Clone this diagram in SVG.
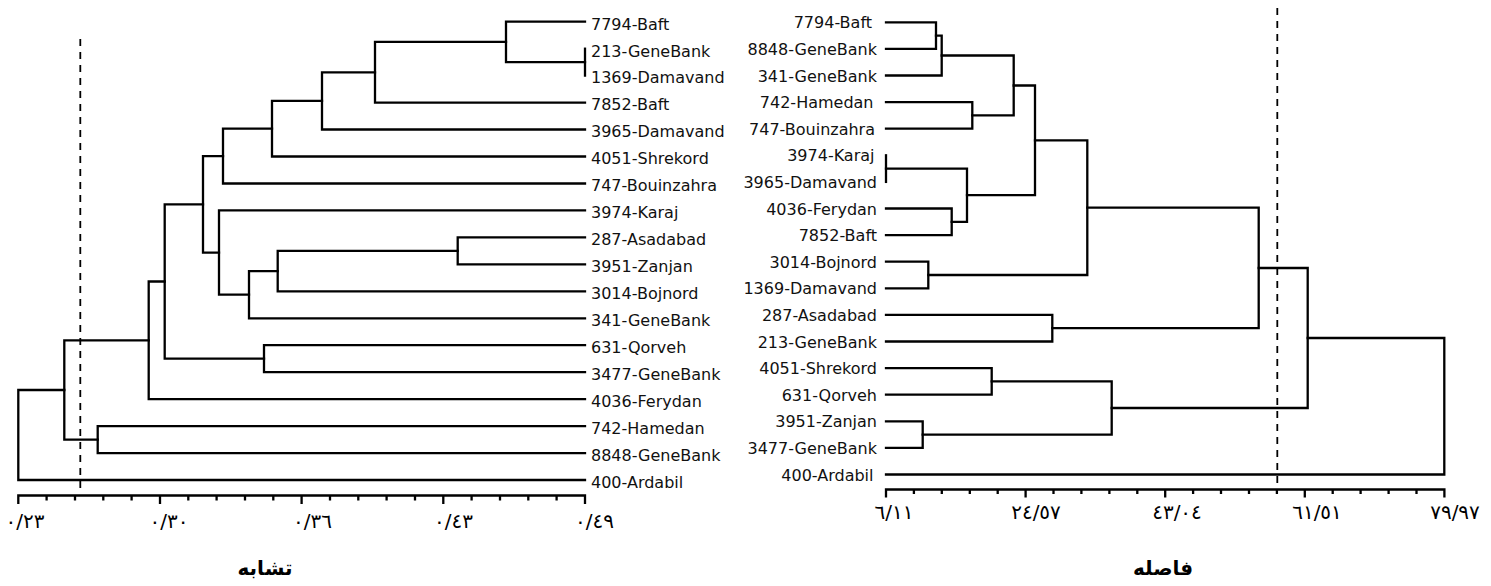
<svg xmlns="http://www.w3.org/2000/svg" width="1491" height="586" viewBox="0 0 1491 586">
  <style>
    .branch { fill: none; stroke: #000; stroke-width: 2.3; stroke-linejoin: miter; stroke-linecap: square; }
    .axis { fill: none; stroke: #000; stroke-width: 2.3; }
    .cut { fill: none; stroke: #000; stroke-width: 1.8; stroke-dasharray: 7 6; }
    .leaf { font-family: "DejaVu Sans", "Noto Sans", sans-serif; font-size: 16px; fill: #111; }
    .tick { font-family: "DejaVu Sans", sans-serif; font-size: 20px; fill: #000; text-anchor: middle; letter-spacing: 2px; }
    .title { font-family: "DejaVu Sans", sans-serif; font-size: 20px; font-weight: bold; fill: #000; text-anchor: middle; }
  </style>
  <rect width="1491" height="586" fill="#fff"/>

  <!-- Similarity dendrogram (left) -->
  <g id="left-tree">
    <g id="left-connectors">
      <!-- 213 / 1369 (zero distance) -->
      <path class="branch" d="M585 48.7 V75.6"/>
      <path class="branch" d="M585 21.7 H506 V62.1 H585"/>
      <path class="branch" d="M506 41.9 H375 V102.6 H585"/>
      <path class="branch" d="M375 72.3 H322 V129.5 H585"/>
      <path class="branch" d="M322 100.9 H272 V156.5 H585"/>
      <path class="branch" d="M272 128.7 H223 V183.5 H585"/>
      <path class="branch" d="M585 237.4 H457.7 V264.3 H585"/>
      <path class="branch" d="M457.7 250.8 H277.7 V291.3 H585"/>
      <path class="branch" d="M277.7 271.1 H249 V318.3 H585"/>
      <path class="branch" d="M585 210.4 H219 V294.7 H249"/>
      <path class="branch" d="M223 156.1 H203 V252.6 H219"/>
      <path class="branch" d="M585 345.2 H264 V372.2 H585"/>
      <path class="branch" d="M203 204.3 H164.7 V358.7 H264"/>
      <path class="branch" d="M164.7 281.5 H148.7 V399.1 H585"/>
      <path class="branch" d="M585 426.1 H97.7 V453.1 H585"/>
      <path class="branch" d="M148.7 340.3 H64.3 V439.6 H97.7"/>
      <path class="branch" d="M64.3 390 H18.3 V480 H585"/>
      <!-- cut-off line -->
      <path class="cut" d="M80.3 39 V493"/>
    </g>

    <g id="left-labels" class="leaf">
      <text x="591" y="29.5">7794-Baft</text>
      <text x="591" y="56.5">213-GeneBank</text>
      <text x="591" y="83.4">1369-Damavand</text>
      <text x="591" y="110.4">7852-Baft</text>
      <text x="591" y="137.3">3965-Damavand</text>
      <text x="591" y="164.3">4051-Shrekord</text>
      <text x="591" y="191.3">747-Bouinzahra</text>
      <text x="591" y="218.2">3974-Karaj</text>
      <text x="591" y="245.2">287-Asadabad</text>
      <text x="591" y="272.1">3951-Zanjan</text>
      <text x="591" y="299.1">3014-Bojnord</text>
      <text x="591" y="326.1">341-GeneBank</text>
      <text x="591" y="353">631-Qorveh</text>
      <text x="591" y="380">3477-GeneBank</text>
      <text x="591" y="406.9">4036-Ferydan</text>
      <text x="591" y="433.9">742-Hamedan</text>
      <text x="591" y="460.9">8848-GeneBank</text>
      <text x="591" y="487.8">400-Ardabil</text>
    </g>

    <g id="left-axis">
      <path class="axis" d="M18.3 504 V495.5 H585 V504"/>
      <path class="axis" d="M160 495.5 V504 M301.6 495.5 V504 M443.3 495.5 V504"/>
      <path class="axis" d="M46.6 495.5 V500.5 M75 495.5 V500.5 M103.3 495.5 V500.5 M131.6 495.5 V500.5
                            M188.3 495.5 V500.5 M216.6 495.5 V500.5 M245 495.5 V500.5 M273.3 495.5 V500.5
                            M330 495.5 V500.5 M358.3 495.5 V500.5 M386.6 495.5 V500.5 M415 495.5 V500.5
                            M471.6 495.5 V500.5 M500 495.5 V500.5 M528.3 495.5 V500.5 M556.6 495.5 V500.5"/>
      <text class="tick" x="25" y="528">٠/٢٣</text>
      <text class="tick" x="169" y="528">٠/٣٠</text>
      <text class="tick" x="312.5" y="528">٠/٣٦</text>
      <text class="tick" x="453.5" y="528">٠/٤٣</text>
      <text class="tick" x="594.5" y="528">٠/٤٩</text>
      <text class="title" x="265" y="575">تشابه</text>
    </g>
  </g>

  <!-- Distance dendrogram (right) -->
  <g id="right-tree">
    <g id="right-connectors">
      <path class="branch" d="M886 22.3 H936 V48.9 H886"/>
      <path class="branch" d="M936 35.6 H941.7 V75.5 H886"/>
      <path class="branch" d="M886 102.1 H972.3 V128.7 H886"/>
      <path class="branch" d="M941.7 55.5 H1013.7 V115.4 H972.3"/>
      <!-- 3974 / 3965 (zero distance) -->
      <path class="branch" d="M886 155.3 V181.9"/>
      <path class="branch" d="M886 208.5 H951.7 V235.1 H886"/>
      <path class="branch" d="M886 168.6 H967 V221.8 H951.7"/>
      <path class="branch" d="M1013.7 85.5 H1035 V195.2 H967"/>
      <path class="branch" d="M886 261.7 H928.3 V288.3 H886"/>
      <path class="branch" d="M1035 140.3 H1087.3 V275 H928.3"/>
      <path class="branch" d="M886 314.9 H1052.3 V341.5 H886"/>
      <path class="branch" d="M1087.3 207.7 H1258.7 V328.2 H1052.3"/>
      <path class="branch" d="M886 368.1 H991.7 V394.7 H886"/>
      <path class="branch" d="M886 421.3 H922.7 V447.9 H886"/>
      <path class="branch" d="M991.7 381.4 H1111.7 V434.6 H922.7"/>
      <path class="branch" d="M1258.7 268 H1307.7 V408 H1111.7"/>
      <path class="branch" d="M1307.7 338 H1444.3 V474.5 H886"/>
      <!-- cut-off line -->
      <path class="cut" d="M1277.3 8 V487"/>
    </g>

    <g id="right-labels" class="leaf" text-anchor="end">
      <text x="872" y="28.3">7794-Baft</text>
      <text x="877" y="54.9">8848-GeneBank</text>
      <text x="877" y="81.5">341-GeneBank</text>
      <text x="873.5" y="108.1">742-Hamedan</text>
      <text x="875" y="134.7">747-Bouinzahra</text>
      <text x="874.5" y="161.3">3974-Karaj</text>
      <text x="877" y="187.9">3965-Damavand</text>
      <text x="877" y="214.5">4036-Ferydan</text>
      <text x="877" y="241.1">7852-Baft</text>
      <text x="877" y="267.7">3014-Bojnord</text>
      <text x="877" y="294.3">1369-Damavand</text>
      <text x="877" y="320.9">287-Asadabad</text>
      <text x="877" y="347.5">213-GeneBank</text>
      <text x="877" y="374.1">4051-Shrekord</text>
      <text x="877" y="400.7">631-Qorveh</text>
      <text x="877" y="427.3">3951-Zanjan</text>
      <text x="877" y="453.9">3477-GeneBank</text>
      <text x="873.5" y="480.5">400-Ardabil</text>
    </g>

    <g id="right-axis">
      <path class="axis" d="M886 497.5 V489.5 H1444.4 V497.5"/>
      <path class="axis" d="M1025.6 489.5 V497.5 M1165.2 489.5 V497.5 M1304.8 489.5 V497.5"/>
      <path class="axis" d="M913.9 489.5 V494 M941.8 489.5 V494 M969.8 489.5 V494 M997.7 489.5 V494
                            M1053.5 489.5 V494 M1081.4 489.5 V494 M1109.4 489.5 V494 M1137.3 489.5 V494
                            M1193.1 489.5 V494 M1221 489.5 V494 M1249 489.5 V494 M1276.9 489.5 V494
                            M1332.7 489.5 V494 M1360.6 489.5 V494 M1388.6 489.5 V494 M1416.5 489.5 V494"/>
      <text class="tick" x="894" y="519">٦/١١</text>
      <text class="tick" x="1036" y="519">٢٤/٥٧</text>
      <text class="tick" x="1177" y="519">٤٣/٠٤</text>
      <text class="tick" x="1317" y="519">٦١/٥١</text>
      <text class="tick" x="1455" y="519">٧٩/٩٧</text>
      <text class="title" x="1163" y="575">فاصله</text>
    </g>
  </g>
</svg>
